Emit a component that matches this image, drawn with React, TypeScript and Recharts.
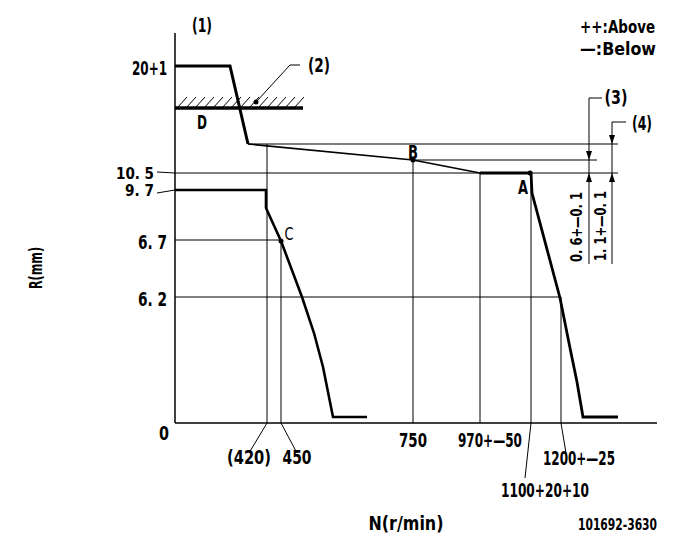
import {
  ComposedChart, Line, Scatter, XAxis, YAxis, ReferenceLine, ReferenceDot, ReferenceArea,
} from 'recharts'

// schematic drawing units (the chart is not to scale)
const X_TICKS = [92, 106, 238, 305, 356, 386]
const X_LABELS = ['(420)', '450', '750', '970+—50', '1100+20+10', '1200+—25']
const Y_TICKS = [0, 126, 183, 233, 250, 357]
const Y_LABELS = ['0', '6. 2', '6. 7', '9. 7', '10. 5', '20+1']

const topStartX = [0, 55, 73]
const topStartY = [357, 357, 279]
const topSlopeX = [73, 238, 305]
const topSlopeY = [279, 263, 250]
const topEndX = [305, 356, 357, 385, 395, 402, 408, 443]
const topEndY = [250, 250, 230, 125, 75, 41, 6, 6]
const lowX = [0, 91, 91, 106, 127, 139, 148, 158, 192]
const lowY = [233, 233, 215, 182, 126, 90, 56, 6, 6]
const stopX = [0, 128]
const stopY = [315, 315]

const guides: [number, number, number, number][] = [
  [73, 279, 443, 279],
  [238, 263, 422, 263],
  [0, 250, 443, 250],
  [0, 183, 106, 183],
  [0, 126, 386, 126],
  [92, 279, 92, 0],
  [106, 183, 106, 0],
  [238, 263, 238, 0],
  [305, 250, 305, 0],
  [356, 250, 356, 0],
  [386, 126, 386, 0],
  [414, 325, 414, 159],
  [437, 301, 437, 159],
  [414, 325, 427, 325],
  [437, 301, 451, 301],
  [81, 321, 115, 358],
  [115, 358, 125, 358],
]

const arrows = [
  { x: 414, y: 263, dir: 'down' },
  { x: 414, y: 250, dir: 'up' },
  { x: 437, y: 279, dir: 'down' },
  { x: 437, y: 250, dir: 'up' },
]

const points = [
  { x: 355, y: 250, name: 'A' },
  { x: 238, y: 263, name: 'B' },
  { x: 106, y: 182, name: 'C' },
  { x: 81, y: 321, name: '' },
]

const zip = (xs: number[], ys: number[]) => xs.map((x, i) => ({ x, y: ys[i] }))

const FONT = "'DejaVu Sans Condensed','DejaVu Sans',sans-serif"
const X_WIDTHS = [44, 29, 28, 64, 88, 72]
const Y_WIDTHS = [10, 29, 29, 29, 38, 35]

const base = { fontFamily: FONT, fontWeight: 700, fill: '#000', dominantBaseline: 'central' as const, lengthAdjust: 'spacingAndGlyphs' as const }

function XTick({ x, y, payload }: any) {
  const i = X_TICKS.indexOf(payload.value)
  const t = { ...base, fontSize: 19, textAnchor: 'middle' as const, textLength: X_WIDTHS[i] }
  const label = X_LABELS[i]
  if (i === 0) return (
    <g>
      <line x1={x} y1={y} x2={x - 18} y2={y + 30} stroke="#000" />
      <text x={x - 18} y={y + 34} {...t}>{label}</text>
    </g>
  )
  if (i === 1) return (
    <g>
      <line x1={x} y1={y} x2={x + 16} y2={y + 30} stroke="#000" />
      <text x={x + 16} y={y + 34} {...t}>{label}</text>
    </g>
  )
  if (i === 4) return (
    <g>
      <line x1={x} y1={y} x2={x - 6} y2={y + 55} stroke="#000" />
      <text x={x + 14} y={y + 67} {...t}>{label}</text>
    </g>
  )
  if (i === 5) return (
    <g>
      <line x1={x} y1={y} x2={x + 5} y2={y + 30} stroke="#000" />
      <text x={x + 18} y={y + 35} {...t}>{label}</text>
    </g>
  )
  return <text x={x + (i === 3 ? 10 : 0)} y={y + 17} {...t}>{label}</text>
}

function YTick({ x, y, payload }: any) {
  const i = Y_TICKS.indexOf(payload.value)
  const small = i === 3 || i === 4
  const t = { ...base, fontSize: small ? 15 : 19, textAnchor: 'end' as const, textLength: Y_WIDTHS[i] }
  const label = Y_LABELS[i]
  if (i === 0) return <text x={x - 6} y={y + 10} {...t}>{label}</text>
  if (small) return (
    <g>
      <line x1={x - 18} y1={y + (i === 3 ? 3 : -1)} x2={x} y2={y} stroke="#000" />
      <text x={x - 21} y={y + 1} {...t}>{label}</text>
    </g>
  )
  return <text x={x - 8} y={y + 2} {...t}>{label}</text>
}

function ArrowHead({ cx, cy, payload }: any) {
  const d = payload.dir === 'down' ? -9 : 9
  return <polygon points={`${cx - 3},${cy + d} ${cx + 3},${cy + d} ${cx},${cy}`} fill="#000" />
}

function Hatch({ x, y, width, height }: any) {
  const marks = []
  for (let p = x + 2; p + 10 <= x + width + 2; p += 9) {
    marks.push(<line key={p} x1={p} y1={y + height} x2={p + 10} y2={y} stroke="#000" strokeWidth={1} />)
  }
  return <g>{marks}</g>
}

function T({ x, y, w, size = 19, anchor = 'middle', rotate, weight = 700, children }: any) {
  return (
    <text x={x} y={y} fontSize={size} textAnchor={anchor} textLength={w}
      transform={rotate ? `rotate(-90 ${x} ${y})` : undefined}
      {...base} fontWeight={weight}>{children}</text>
  )
}

export default function App() {
  return (
    <div style={{ position: 'relative', width: 685, height: 549, background: '#fff' }}>
      <style>{'body{margin:0}'}</style>
      <ComposedChart width={685} height={549} margin={{ top: 33, right: 28, left: 115, bottom: 96 }}>
        <XAxis type="number" dataKey="x" domain={[0, 482]} ticks={X_TICKS} interval={0}
          height={30} tickLine={false} tickSize={0} tickMargin={0} tick={<XTick />}
          axisLine={{ stroke: '#000', strokeWidth: 1.5 }} allowDataOverflow />
        <YAxis type="number" dataKey="y" domain={[0, 390]} ticks={Y_TICKS} interval={0}
          width={60} tickLine={false} tickSize={0} tickMargin={0} tick={<YTick />}
          axisLine={{ stroke: '#000', strokeWidth: 1.5 }} allowDataOverflow />
        {guides.map((g, i) => (
          <ReferenceLine key={i} segment={[{ x: g[0], y: g[1] }, { x: g[2], y: g[3] }]}
            stroke="#000" strokeWidth={1} ifOverflow="visible" />
        ))}
        <ReferenceArea x1={0} x2={128} y1={315} y2={326} shape={<Hatch />} ifOverflow="visible" />
        <Line data={zip(stopX, stopY)} dataKey="y" stroke="#000" strokeWidth={3.5} dot={false} isAnimationActive={false} />
        <Line data={zip(topStartX, topStartY)} dataKey="y" stroke="#000" strokeWidth={3} dot={false} isAnimationActive={false} />
        <Line data={zip(topSlopeX, topSlopeY)} dataKey="y" stroke="#000" strokeWidth={1.6} dot={false} isAnimationActive={false} />
        <Line data={zip(topEndX, topEndY)} dataKey="y" stroke="#000" strokeWidth={2.8} dot={false} isAnimationActive={false} />
        <Line data={zip(lowX, lowY)} dataKey="y" stroke="#000" strokeWidth={2.6} dot={false} isAnimationActive={false} />
        <Scatter data={arrows} dataKey="y" shape={<ArrowHead />} isAnimationActive={false} />
        {points.map(p => (
          <ReferenceDot key={p.name + p.x} x={p.x} y={p.y} r={2.5} fill="#000" stroke="none" ifOverflow="visible" />
        ))}
      </ComposedChart>
      <svg width={685} height={549} style={{ position: 'absolute', left: 0, top: 0, pointerEvents: 'none' }}>
        <T x={202} y={25} w={20}>(1)</T>
        <T x={580} y={27} w={75} size={17} anchor="start">++:Above</T>
        <T x={580} y={49} w={76} size={17} anchor="start">—:Below</T>
        <T x={319} y={65} w={22}>(2)</T>
        <T x={616} y={97} w={23}>(3)</T>
        <T x={642} y={123} w={20}>(4)</T>
        <T x={202} y={122} w={10}>D</T>
        <T x={413} y={152} w={10}>B</T>
        <T x={523} y={187} w={10}>A</T>
        <T x={289} y={234} w={9} size={17} weight={400}>C</T>
        <T x={576} y={227} w={70} size={16} rotate>0. 6+—0. 1</T>
        <T x={600} y={226} w={70} size={16} rotate>1. 1+—0. 1</T>
        <T x={35} y={268} w={42} size={18} rotate>R(mm)</T>
        <T x={406} y={523} w={75} size={20}>N(r/min)</T>
        <T x={657} y={524} w={79} size={16} anchor="end">101692-3630</T>
      </svg>
    </div>
  )
}
